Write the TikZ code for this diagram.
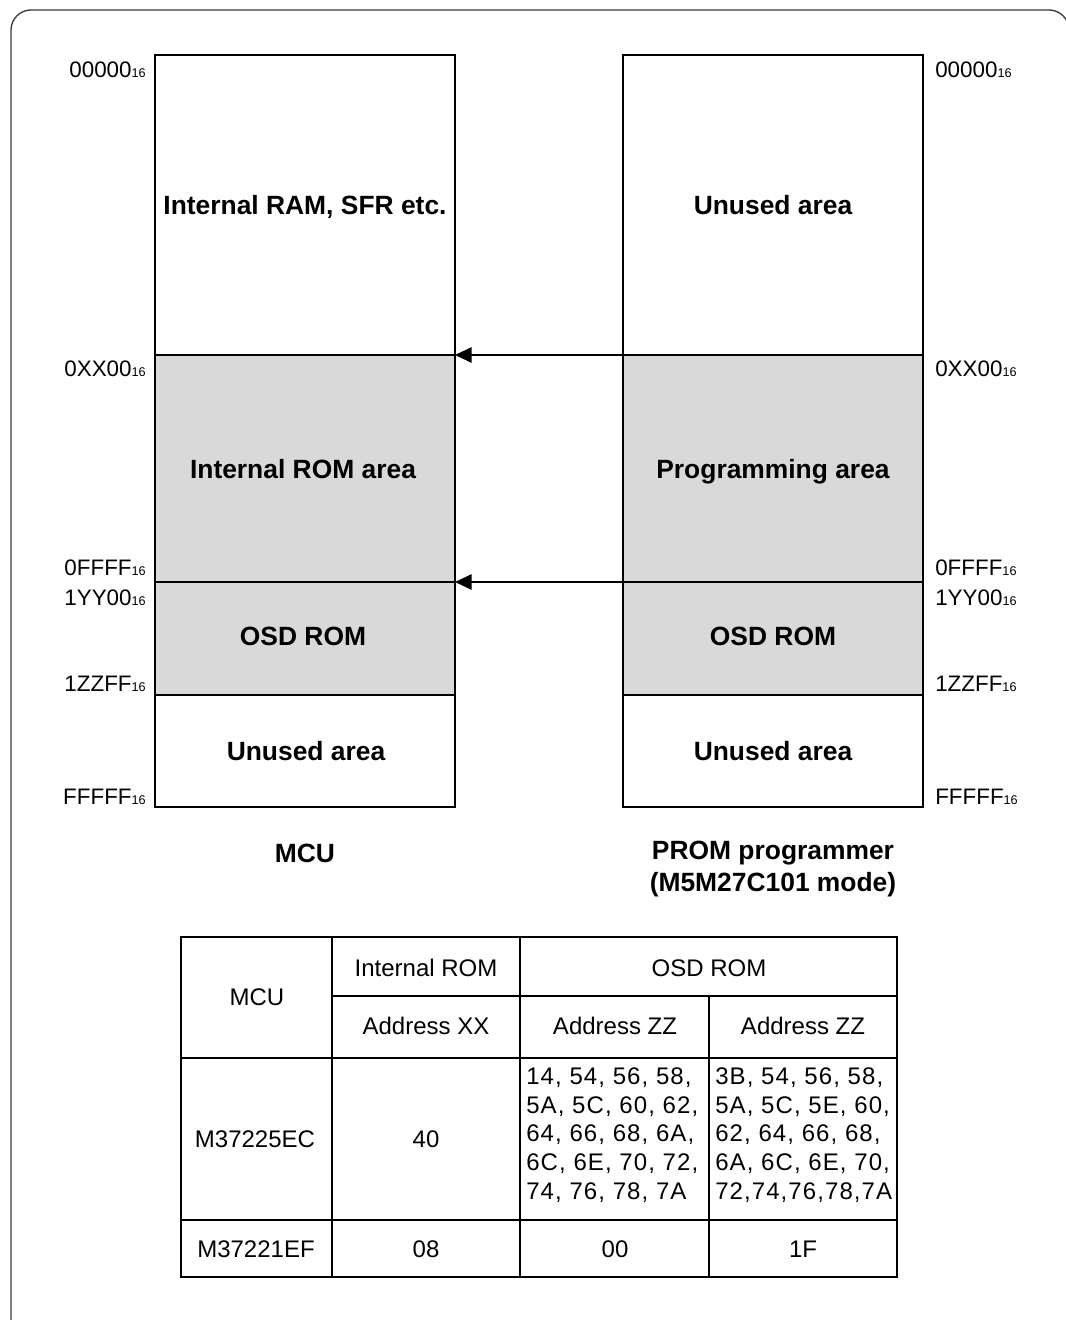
\documentclass[tikz,border=0pt]{standalone}
\usepackage{fontspec}
\setmainfont{Liberation Sans}
\usepackage{xcolor}
\usepackage{tikz}
\usetikzlibrary{arrows.meta}
\definecolor{romgray}{HTML}{D9D9D9}
\definecolor{framegray}{HTML}{3A3A3A}
\newcommand{\addr}[1]{#1{\fontsize{9.5}{10}\selectfont 16}}
\newcommand{\bigbf}{\bfseries\fontsize{19.8}{24}\selectfont}
\newcommand{\tblfont}{\fontsize{18}{21.6}\selectfont}
\tikzset{
  region/.style={line width=1.5pt},
  rom/.style={fill=romgray},
  addrl/.style={anchor=east, inner sep=0, font=\fontsize{16.8}{18}\selectfont},
  addrr/.style={anchor=west, inner sep=0, font=\fontsize{16.8}{18}\selectfont},
  lbl/.style={inner sep=0, font=\bigbf, text height=16pt, text depth=1.8pt},
  caption/.style={inner sep=0, font=\bigbf, align=center},
  arr/.style={line width=1.5pt, -{Triangle[length=12.5pt,width=11.5pt]}},
  tbl/.style={line width=0.8pt},
  tblout/.style={line width=2pt},
  cell/.style={inner sep=0, font=\tblfont, align=center},
  wide/.style={anchor=west, align=left, font=\tblfont\addfontfeature{LetterSpace=4.5}},
}

\begin{document}
\begin{tikzpicture}[x=0.75pt, y=-0.75pt]
\useasboundingbox (0,0) rectangle (1066,1320);
% outer frame
\draw[framegray, line width=1pt, rounded corners=15] (11,1340) -- (11,10) -- (1069,10) -- (1069,1340);

% memory maps
\fill[rom] (155,355) rectangle (455,695);
\fill[rom] (623,355) rectangle (922,695);
\foreach \x in {155,623} {
  \draw[region] (\x,55) rectangle ++(300,752);
  \foreach \y in {355,582,695} \draw[region] (\x,\y) --++(300,0);
}

\node[lbl] (ram) at (305,205) {Internal RAM, SFR etc.};
\node[lbl] (irom) at (303,469) {Internal ROM area};
\node[lbl] (osdl) at (303,636) {OSD ROM};
\node[lbl] (unl) at (306,751) {Unused area};
\node[lbl] (unr1) at (773,205) {Unused area};
\node[lbl] (prog) at (773,469) {Programming area};
\node[lbl] (osdr) at (773,636) {OSD ROM};
\node[lbl] (unr2) at (773,751) {Unused area};

% addresses
\foreach \y/\a [count=\i] in {70/00000, 369/0XX00, 568/0FFFF, 598/1YY00, 684/1ZZFF, 797/FFFFF} {
  \node[addrl] (la\i) at (146,\y) {\addr{\a}};
  \node[addrr] (ra\i) at (935,\y) {\addr{\a}};
}

% arrows
\coordinate (mcuA) at (455,355);
\coordinate (promA) at (623,355);
\coordinate (mcuB) at (455,582);
\coordinate (promB) at (623,582);
\draw[arr] (promA) -- (mcuA);
\draw[arr] (promB) -- (mcuB);

\node[caption] (mcu) at (305,853) {MCU};
\node[caption] (prom) at (773,869) {PROM programmer\\(M5M27C101 mode)};

% table
\draw[tblout] (181,937) rectangle (897,1277);
\draw[tbl] (332,937) -- (332,1277);
\draw[tbl] (520,937) -- (520,1277);
\draw[tbl] (709,996) -- (709,1277);
\draw[tbl] (332,996) -- (897,996);
\draw[tbl] (181,1058) -- (897,1058);
\draw[tbl] (181,1220) -- (897,1220);

\node[cell] (hmcu) at (257,997) {MCU};
\node[cell] (hrom) at (426,968) {Internal ROM};
\node[cell] (hosd) at (709,968) {OSD ROM};
\node[cell] (hxx) at (426,1026) {Address XX};
\node[cell] (hzz1) at (615,1026) {Address ZZ};
\node[cell] (hzz2) at (803,1026) {Address ZZ};

\node[cell] (m1) at (255,1139) {M37225EC};
\node[cell] (m1xx) at (426,1139) {40};
\node[cell, wide] (m1zz1) at (526,1135) {14, 54, 56, 58,\\5A, 5C, 60, 62,\\64, 66, 68, 6A,\\6C, 6E, 70, 72,\\74, 76, 78, 7A};
\node[cell, wide] (m1zz2) at (715,1135) {3B, 54, 56, 58,\\5A, 5C, 5E, 60,\\62, 64, 66, 68,\\6A, 6C, 6E, 70,\\72,74,76,78,7A};

\node[cell] (m2) at (256,1249) {M37221EF};
\node[cell] (m2xx) at (426,1249) {08};
\node[cell] (m2zz1) at (615,1249) {00};
\node[cell] (m2zz2) at (803,1249) {1F};
\end{tikzpicture}
\end{document}
